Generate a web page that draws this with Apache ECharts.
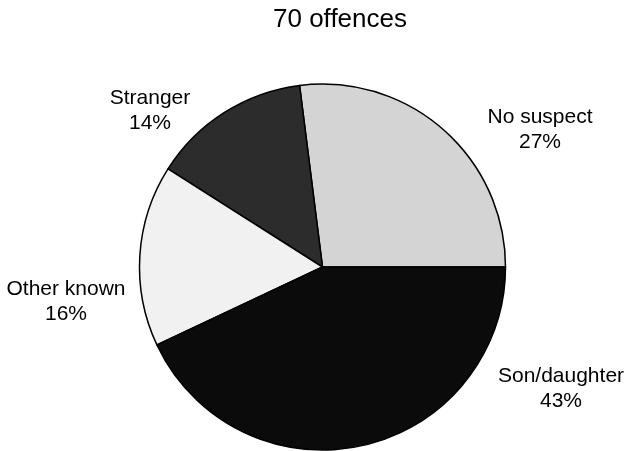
<!DOCTYPE html>
<html>
<head>
<meta charset="utf-8">
<script src="https://cdn.jsdelivr.net/npm/echarts@6/dist/echarts.min.js"></script>
<style>html,body{margin:0;padding:0;background:#fff}#c{width:629px;height:451px}</style>
</head>
<body>
<div id="c"></div>
<script>
var titleText = '70 offences';
var categories = ['No suspect', 'Stranger', 'Other known', 'Son/daughter'];
var values = [27, 14, 16, 43];
var colors = ['#d4d4d4', '#2c2c2c', '#f1f1f1', '#0b0b0b'];
// label centres (pixel layout, not data)
var labelPos = [[540, 130], [150, 111], [66, 302], [561, 389]];

var chart = echarts.init(document.getElementById('c'), null, {renderer: 'canvas'});
chart.setOption({
  animation: false,
  backgroundColor: '#fff',
  title: {
    text: titleText, left: 335, textAlign: 'center', top: 2,
    textStyle: {fontFamily: 'Liberation Sans, Arial', fontSize: 26, fontWeight: 'normal', color: '#000'}
  },
  series: [{
    type: 'pie',
    center: [322.5, 267],
    radius: 183,
    startAngle: 0,
    clockwise: false,
    avoidLabelOverlap: false,
    data: categories.map(function (c, i) {
      return {name: c, value: values[i], itemStyle: {color: colors[i]}};
    }),
    itemStyle: {borderColor: '#000', borderWidth: 1.5},
    label: {
      show: true, position: 'outside',
      formatter: function (p) { return p.name + '\n' + p.value + '%'; },
      fontFamily: 'Liberation Sans, Arial', fontSize: 21, color: '#000',
      lineHeight: 25, align: 'center'
    },
    labelLine: {show: false},
    labelLayout: function (p) {
      var pos = labelPos[p.dataIndex];
      return {x: pos[0], y: pos[1], align: 'center', verticalAlign: 'middle'};
    },
    emphasis: {disabled: true}
  }]
});
</script>
</body>
</html>
